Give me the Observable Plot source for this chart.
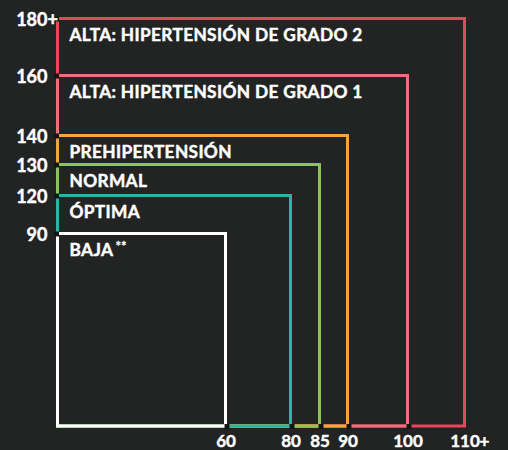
<!DOCTYPE html>
<html>
<head>
<meta charset="utf-8">
<script src="https://cdn.jsdelivr.net/npm/d3@7"></script>
<script src="https://cdn.jsdelivr.net/npm/@observablehq/plot@0.6"></script>
<style>
  html, body { margin: 0; padding: 0; background: #222323; }
  #chart { width: 508px; height: 450px; }
  .cat text { letter-spacing: 0.35px; }
</style>
</head>
<body>
<div id="chart"></div>
<script>
// Categories of blood pressure (Spanish)
const categories = ["BAJA", "ÓPTIMA", "NORMAL", "PREHIPERTENSIÓN", "ALTA: HIPERTENSIÓN DE GRADO 1", "ALTA: HIPERTENSIÓN DE GRADO 2"];
const categoryNotes = ["**", "", "", "", "", ""];
// Systolic upper limits (y) and diastolic upper limits (x)
const systolic = [90, 120, 130, 140, 160, 180];
const diastolic = [60, 80, 85, 90, 100, 110];
const colors = ["#ffffff", "#2bb3a8", "#8bc455", "#f5a53c", "#ef6e7b", "#e5485c"];
// Tick values and labels
const yTickValues = [90, 120, 130, 140, 160, 180];
const yTickLabels = ["90", "120", "130", "140", "160", "180+"];
const xTickValues = [60, 80, 85, 90, 100, 110];
const xTickLabels = ["60", "80", "85", "90", "100", "110+"];

const rows = categories.map((c, i) => ({c, note: categoryNotes[i], s: systolic[i], d: diastolic[i], color: colors[i]}));
const drawOrder = rows.slice().reverse();
const yTicks = yTickValues.map((v, i) => ({v, label: yTickLabels[i]}));
const xTicks = xTickValues.map((v, i) => ({v, label: xTickLabels[i]}));

const font = "Lato, 'Open Sans', sans-serif";
const bg = "#222323";
const txt = {fill: "white", stroke: "white", strokeWidth: 0.45, fontWeight: "bold", fontFamily: font};

const chart = Plot.plot({
  width: 508,
  height: 450,
  margin: 0,
  style: {background: bg, fontFamily: font},
  x: {type: "linear", domain: [0, 60, 80, 85, 90, 100, 110], range: [57.5, 225.5, 290.5, 319.5, 347.5, 407.5, 464.5], axis: null},
  y: {type: "linear", domain: [0, 90, 120, 130, 140, 160, 180], range: [426, 233.5, 195.5, 164.5, 135.5, 75.5, 18.5], axis: null},
  color: {type: "identity"},
  marks: [
    Plot.rect(drawOrder, {x1: () => 0, x2: "d", y1: () => 0, y2: "s", stroke: "color", fill: "none", strokeWidth: 3}),
    // dark gap markers at boundaries
    Plot.dot(yTicks, {x: () => 0, y: "v", symbol: "square", r: 2.8, fill: "#151515", dx: -1.5}),
    Plot.dot(xTicks.filter(t => t.v < 110), {x: "v", y: () => 0, symbol: "square", r: 2.8, fill: "#151515", dx: 1}),
    // category labels
    Plot.text(rows, {x: () => 0, y: "s", text: "c", textAnchor: "start", lineAnchor: "top", dx: 11.5, dy: 10,
      fontSize: 17.3, className: "cat", ...txt}),
    Plot.text(rows.filter(r => r.note), {x: () => 0, y: "s", text: "note", textAnchor: "start", lineAnchor: "top", dx: 57.5, dy: 7.5,
      fontSize: 13, ...txt, strokeWidth: 0.3}),
    // y tick labels
    Plot.text(yTicks, {x: () => 0, y: "v", text: t => t.label.replace("+", ""), textAnchor: "end", lineAnchor: "middle", dx: -10.5, dy: 1,
      fontSize: 18, ...txt}),
    Plot.text(yTicks.filter(t => t.label.endsWith("+")), {x: () => 0, y: "v", text: () => "+", textAnchor: "start", lineAnchor: "middle", dx: -10.5, dy: 1,
      fontSize: 18, ...txt}),
    // x tick labels
    Plot.text(xTicks, {x: "v", y: () => 0, text: t => t.label.replace("+", ""), textAnchor: "middle", lineAnchor: "top", dy: 8,
      fontSize: 17, ...txt}),
    Plot.text(xTicks.filter(t => t.label.endsWith("+")), {x: "v", y: () => 0, text: () => "+", textAnchor: "start", lineAnchor: "top", dx: 14.5, dy: 8,
      fontSize: 17, ...txt})
  ]
});
document.getElementById("chart").appendChild(chart);
</script>
</body>
</html>
